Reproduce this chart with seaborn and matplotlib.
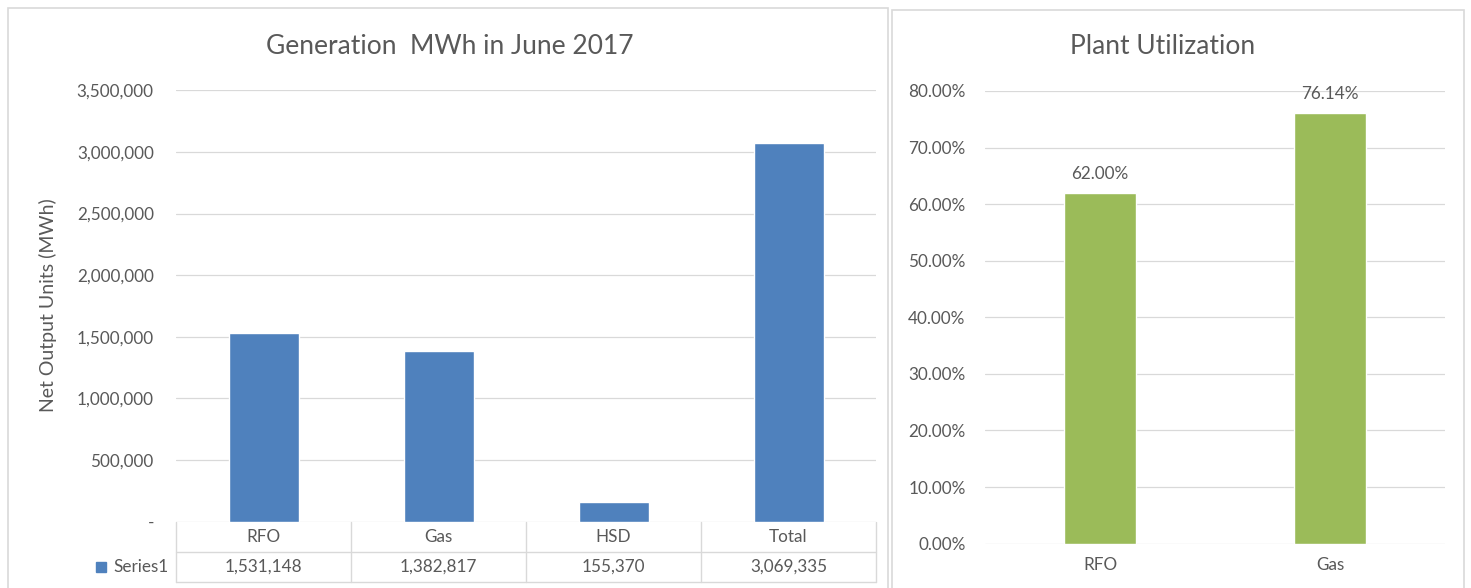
import matplotlib.pyplot as plt
import matplotlib.transforms as mtransforms
from matplotlib import patches
from matplotlib.ticker import FuncFormatter, MultipleLocator
import pandas as pd
import seaborn as sns

# data
gen_fuels = ["RFO", "Gas", "HSD", "Total"]
gen_mwh = [1531148, 1382817, 155370, 3069335]
series_name = "Series1"
util_plants = ["RFO", "Gas"]
util_pct = [0.6200, 0.7614]

BLUE = "#4f81bd"
GREEN = "#9bbb59"
GRID = "#d9d9d9"
TXT = "#595959"
FS = 12.3

sns.set_style("white")
plt.rcParams['font.family'] = ['Lato', 'DejaVu Sans']

W, H = 1471, 588
fig = plt.figure(figsize=(W / 100, H / 100), dpi=100)


def px_axes(left, top, right, bottom):
    return fig.add_axes([left / W, 1 - bottom / H, (right - left) / W, (bottom - top) / H])


# panel frames
fig.patches.append(patches.Rectangle((8 / W, -0.01), 880 / W, 1.01 - 8 / H, transform=fig.transFigure,
                                     fill=False, edgecolor=GRID, lw=1.2))
fig.patches.append(patches.Rectangle((892 / W, -0.01), 572 / W, 1.01 - 10 / H, transform=fig.transFigure,
                                     fill=False, edgecolor=GRID, lw=1.2))

# ---- left chart: generation ----
df_gen = pd.DataFrame({"Fuel": gen_fuels, "MWh": gen_mwh})
ax1 = px_axes(176, 90.4, 876, 521.6)
sns.barplot(data=df_gen, x="Fuel", y="MWh", order=gen_fuels, color=BLUE,
            saturation=1, width=0.4, ax=ax1)
ax1.set_ylim(0, 3500000)
ax1.set_xlim(-0.5, len(gen_fuels) - 0.5)
ax1.yaxis.set_major_locator(MultipleLocator(500000))
ax1.yaxis.set_major_formatter(FuncFormatter(lambda v, p: f"{v:,.0f}" if v else "-"))
ax1.grid(axis="y", color=GRID, lw=0.9)
ax1.set_axisbelow(True)
ax1.tick_params(axis="y", length=0, labelsize=FS, labelcolor=TXT, pad=16)
ax1.set_xticks([])
ax1.set_xlabel("")
ax1.set_ylabel("")
sns.despine(ax=ax1, left=True, bottom=True)

# data table under the x axis
row_h = 30 / 431.2
tr = mtransforms.blended_transform_factory(ax1.transData, ax1.transAxes)
n = len(gen_fuels)
for yy in [-row_h, -2 * row_h]:
    ax1.plot([-0.5, n - 0.5], [yy, yy], color=GRID, lw=1, transform=tr, clip_on=False)
for xx in range(n + 1):
    ax1.plot([xx - 0.5, xx - 0.5], [0, -2 * row_h], color=GRID, lw=1, transform=tr, clip_on=False)
for i, (fuel, val) in enumerate(zip(gen_fuels, gen_mwh)):
    ax1.text(i, -0.5 * row_h, fuel, transform=tr, ha="center", va="center",
             fontsize=FS, color=TXT)
    ax1.text(i, -1.5 * row_h, f"{val:,}", transform=tr, ha="center", va="center",
             fontsize=FS, color=TXT)
ax1.text(-0.54, -1.5 * row_h, series_name, transform=tr, ha="right", va="center",
         fontsize=FS, color=TXT)
ax1.plot([-0.93], [-1.5 * row_h], marker="s", ms=6.5, color=BLUE, transform=tr, clip_on=False)

fig.text(450 / W, 1 - 47 / H, "Generation  MWh in June 2017", ha="center", va="center",
         fontsize=19, color=TXT)
fig.text(48 / W, 1 - 305 / H, "Net Output Units (MWh)", rotation=90, ha="center",
         va="center", fontsize=14, color=TXT)

# ---- right chart: utilization ----
df_util = pd.DataFrame({"Plant": util_plants, "Utilization": util_pct})
ax2 = px_axes(985, 91, 1445, 543.6)
sns.barplot(data=df_util, x="Plant", y="Utilization", order=util_plants, color=GREEN,
            saturation=1, width=0.31, ax=ax2)
ax2.set_ylim(0, 0.8)
ax2.set_xlim(-0.5, len(util_plants) - 0.5)
ax2.yaxis.set_major_locator(MultipleLocator(0.1))
ax2.yaxis.set_major_formatter(FuncFormatter(lambda v, p: f"{v * 100:.2f}%"))
ax2.grid(axis="y", color=GRID, lw=0.9)
ax2.set_axisbelow(True)
ax2.tick_params(axis="y", length=0, labelsize=FS, labelcolor=TXT, pad=14)
ax2.tick_params(axis="x", length=0, labelsize=FS, labelcolor=TXT, pad=10)
ax2.set_xlabel("")
ax2.set_ylabel("")
sns.despine(ax=ax2, left=True, bottom=True)
ax2.bar_label(ax2.containers[0], labels=[f"{v * 100:.2f}%" for v in util_pct],
              padding=8, fontsize=FS, color=TXT)

fig.text(1163 / W, 1 - 47 / H, "Plant Utilization", ha="center", va="center",
         fontsize=19, color=TXT)

fig.savefig("out.png", dpi=100, facecolor="white")
